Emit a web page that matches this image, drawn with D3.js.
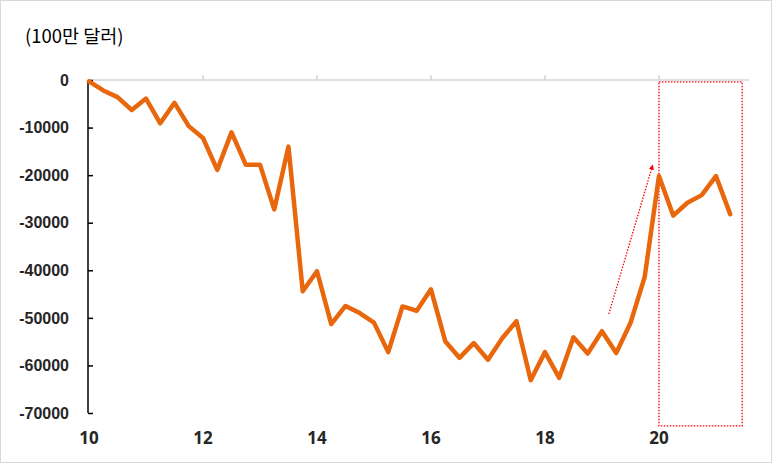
<!DOCTYPE html>
<html>
<head>
<meta charset="utf-8">
<script src="https://cdn.jsdelivr.net/npm/d3@7"></script>
<style>
  body { margin: 0; background: #fff; }
</style>
</head>
<body>
<div id="chart"></div>
<script>
// quarterly values (100만 달러), first point = 2010 Q1
var startYear = 10;
var values = [
  -300, -2200, -3600, -6300, -3900, -9100, -4800, -9700,
  -12200, -18900, -11000, -17800, -17800, -27200, -14000, -44400,
  -40200, -51300, -47500, -49000, -51000, -57200, -47600, -48500,
  -44000, -54900, -58400, -55300, -58800, -54300, -50700, -63100,
  -57200, -62600, -54100, -57500, -52800, -57400, -51100, -41400,
  -20200, -28500, -25800, -24200, -20200, -28200
];
var xTicks = [10, 12, 14, 16, 18, 20];
var yTicks = [0, -10000, -20000, -30000, -40000, -50000, -60000, -70000];
var unitLabel = "(100만 달러)";

var W = 773, H = 464;
var svg = d3.select("#chart").append("svg")
    .attr("width", W).attr("height", H);

svg.append("rect")
    .attr("x", 0.5).attr("y", 0.5)
    .attr("width", W - 2).attr("height", H - 2)
    .attr("fill", "#fff").attr("stroke", "#d9d9d9");

var x = d3.scaleLinear().domain([10, 21.58]).range([89, 749]);
var y = d3.scaleLinear().domain([0, -70000]).range([80, 413]);

// zero line with upward ticks
svg.append("line")
    .attr("x1", x(10)).attr("x2", x(21.58))
    .attr("y1", y(0)).attr("y2", y(0))
    .attr("stroke", "#d0d5dc").attr("stroke-width", 1.5);
svg.selectAll("line.xtick")
  .data(xTicks.slice(1))
  .join("line")
    .attr("class", "xtick")
    .attr("x1", d => x(d)).attr("x2", d => x(d))
    .attr("y1", y(0)).attr("y2", y(0) - 5)
    .attr("stroke", "#d0d5dc").attr("stroke-width", 1.5);

// y axis
var yAxis = d3.axisRight(y)
    .tickValues(yTicks)
    .tickSize(5)
    .tickFormat("");
var gy = svg.append("g")
    .attr("transform", "translate(88,0)")
    .call(yAxis);
gy.select(".domain").attr("stroke", "#000").attr("stroke-width", 1.5)
    .attr("d", `M0,${y(0)}V${y(-70000)}`);
gy.selectAll(".tick line").attr("stroke", "#000").attr("stroke-width", 1.5);

svg.selectAll("text.ylab")
  .data(yTicks)
  .join("text")
    .attr("class", "ylab")
    .attr("x", 69)
    .attr("y", d => y(d))
    .attr("dy", "0.36em")
    .attr("text-anchor", "end")
    .style("font-family", "Liberation Sans, Arial, sans-serif")
    .style("font-size", "16px")
    .style("font-weight", "bold")
    .style("fill", "#262626")
    .text(d => d);

svg.selectAll("text.xlab")
  .data(xTicks)
  .join("text")
    .attr("class", "xlab")
    .attr("x", d => x(d))
    .attr("y", 438)
    .attr("dy", "0.36em")
    .attr("text-anchor", "middle")
    .style("font-family", "Open Sans, sans-serif")
    .style("font-size", "17px")
    .style("font-weight", "bold")
    .style("fill", "#262626")
    .text(d => d);

svg.append("text")
    .attr("x", 25).attr("y", 36)
    .attr("dy", "0.36em")
    .style("font-family", "Noto Sans CJK KR, sans-serif")
    .style("font-size", "18.5px")
    .style("fill", "#000")
    .text(unitLabel);

// red dotted annotation box and arrow
svg.append("rect")
    .attr("x", x(20)).attr("y", y(-400))
    .attr("width", x(21.46) - x(20))
    .attr("height", y(-72700) - y(-400))
    .attr("fill", "none")
    .attr("stroke", "#ff0000")
    .attr("stroke-width", 1.3)
    .attr("stroke-dasharray", "1.5,1.5");

svg.append("defs").append("marker")
    .attr("id", "head")
    .attr("viewBox", "0 0 10 10")
    .attr("refX", 5).attr("refY", 5)
    .attr("markerWidth", 4).attr("markerHeight", 4)
    .attr("orient", "auto")
  .append("path")
    .attr("d", "M0,0L10,5L0,10z")
    .attr("fill", "#ff0000");

svg.append("line")
    .attr("x1", x(19.12)).attr("y1", y(-49200))
    .attr("x2", x(19.88)).attr("y2", y(-18300))
    .attr("stroke", "#ff0000")
    .attr("stroke-width", 1.3)
    .attr("stroke-dasharray", "1.5,1.5")
    .attr("marker-end", "url(#head)");

// the series
var line = d3.line()
    .x((d, i) => x(startYear + i / 4))
    .y(d => y(d));

svg.append("path")
    .datum(values)
    .attr("d", line)
    .attr("fill", "none")
    .attr("stroke", "#e8670c")
    .attr("stroke-width", 4.5)
    .attr("stroke-linejoin", "round")
    .attr("stroke-linecap", "round");
</script>
</body>
</html>
